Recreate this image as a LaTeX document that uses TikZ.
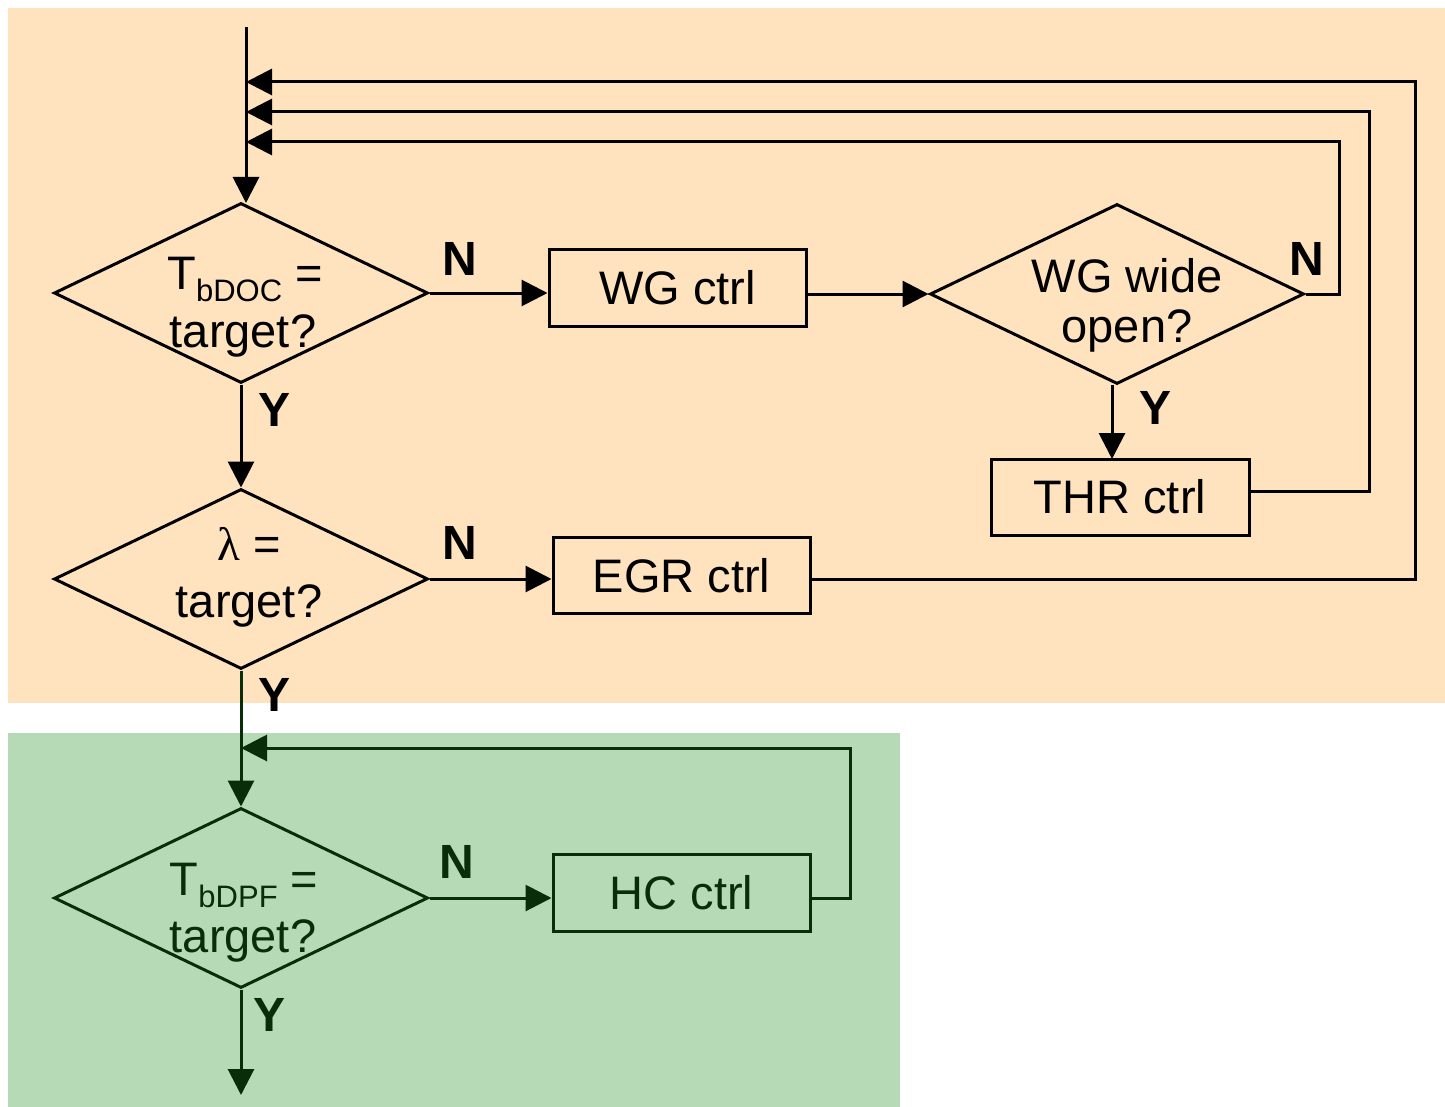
\documentclass[tikz,border=0pt]{standalone}
\usepackage{fontspec}
\setmainfont{Liberation Sans}
\newfontfamily\lamfont{Liberation Serif}
\usetikzlibrary{arrows.meta,shapes.geometric}
\definecolor{bgor}{RGB}{255,226,190}
\definecolor{bggr}{RGB}{181,218,181}
\definecolor{dkgr}{RGB}{8,45,8}
\newcommand\mysub[1]{\raisebox{-12pt}{\fontsize{31}{31}\selectfont #1}}
\begin{document}
\begin{tikzpicture}[x=1pt,y=-1pt,line width=3pt,
  arr/.style={-{Triangle[length=26pt,width=26pt]}},
  dia/.style={draw,diamond,minimum width=374pt,minimum height=180pt,inner sep=0pt},
  box/.style={draw,rectangle,minimum width=257pt,minimum height=76pt,inner sep=0pt,
    font=\fontsize{47}{52}\selectfont},
  txt/.style={anchor=base,inner sep=0pt,font=\fontsize{47}{52}\selectfont},
  lbl/.style={inner sep=0pt,font=\fontsize{48}{52}\selectfont\bfseries}]
\useasboundingbox (0,0) rectangle (1445,1107);
\fill[bgor] (8,8) rectangle (1445,703);
\fill[bggr] (8,733) rectangle (900,1107);

% upper part
\coordinate (start) at (246,27);
\node[dia] (d1) at (241,293) {};
\node[txt] (d1a) at (245,290) {T\mysub{bDOC} =};
\node[txt] (d1b) at (243,347) {target?};

\node[box] (wg) at (677.5,288) {WG ctrl};

\node[dia] (d4) at (1117,294) {};
\node[txt] (d4a) at (1127,292) {WG wide};
\node[txt] (d4b) at (1127,342) {open?};

\node[box,minimum width=258pt] (thr) at (1120,497) {THR ctrl};

\node[dia] (d2) at (241,579) {};
\node[txt] (d2a) at (249,560) {{\lamfont λ} =};
\node[txt] (d2b) at (249,617) {target?};

\node[box] (egr) at (681.5,575.5) {EGR ctrl};

\coordinate (j1) at (246,82);
\coordinate (j2) at (246,112);
\coordinate (j3) at (246,142);
\coordinate (c1) at (1415,82);
\coordinate (c2) at (1369,112);
\coordinate (c3) at (1339,142);

\draw[arr] (start) -- (246,203);
\draw[arr] (d1.east) -- (d1.east -| wg.west);
\draw[arr] (wg.east |- d4.west) -- (d4.west);
\draw[arr] (1112,385) -- (1112,459);
\draw[arr] (d1.south) -- (d2.north);
\draw[arr] (d2.east) -- (d2.east -| egr.west);
\draw[arr] (d4.east) -- (d4.east -| c3) -- (c3) -- (j3);
\draw[arr] (thr.east |- 0,491) -- (c2 |- 0,491) -- (c2) -- (j2);
\draw[arr] (egr.east |- d2.east) -- (c1 |- d2.east) -- (c1) -- (j1);

\node[lbl] (n1) at (460,259) {N};
\node[lbl] (n4) at (1307,259) {N};
\node[lbl] (n2) at (460,543) {N};
\node[lbl] (y1) at (275,410) {Y};
\node[lbl] (y4) at (1155,408) {Y};
\node[lbl] (y2) at (275,695) {Y};

% lower (green) part
\begin{scope}[dkgr,text=dkgr]
\node[dia] (d3) at (241,898) {};
\node[txt] (d3a) at (244,895) {T\mysub{bDPF} =};
\node[txt] (d3b) at (243,952) {target?};
\node[box,minimum height=77pt] (hc) at (681.5,892.5) {HC ctrl};
\coordinate (j5) at (241,748);
\coordinate (c5) at (850,748);
\coordinate (out) at (241,1095);
\draw (d2.south) -- (241,733);
\draw[arr] (241,733) -- (d3.north);
\draw[arr] (d3.east) -- (d3.east -| hc.west);
\draw[arr] (hc.east |- d3.east) -- (c5 |- d3.east) -- (c5) -- (j5);
\draw[arr] (d3.south) -- (out);
\node[lbl] (n3) at (457,862) {N};
\node[lbl] (y3) at (270,1015) {Y};
\end{scope}
\end{tikzpicture}
\end{document}
